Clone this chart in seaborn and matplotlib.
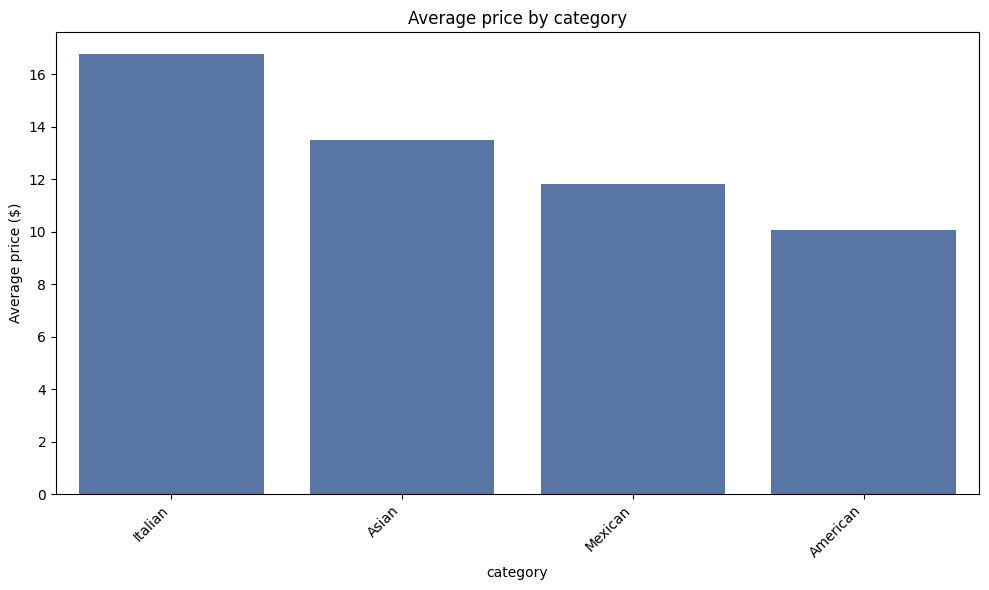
import pandas as pd
import matplotlib
matplotlib.use("Agg")
import matplotlib.pyplot as plt
import seaborn as sns

categories = ["Italian", "Asian", "Mexican", "American"]
avg_price = [16.77, 13.50, 11.83, 10.07]

df = pd.DataFrame({"category": categories, "avg_price": avg_price})

fig, ax = plt.subplots(figsize=(9.89, 5.9), dpi=100)
sns.barplot(data=df, x="category", y="avg_price", color="#4c72b0", ax=ax)
ax.set_title("Average price by category")
ax.set_xlabel("category")
ax.set_ylabel("Average price ($)")
plt.setp(ax.get_xticklabels(), rotation=45, ha="right")
fig.subplots_adjust(left=0.0566, right=0.99, top=0.9458, bottom=0.1627)
plt.savefig("out.png")
